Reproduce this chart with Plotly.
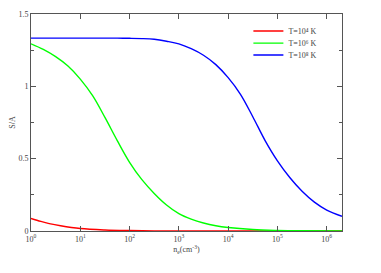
import plotly.graph_objects as go

# log10 density values and S/A readings
red_logn = [0.0, 0.2, 0.37, 0.6, 1.0, 1.5, 2.0, 2.5, 3.0, 4.0, 5.0, 6.33]
red_val = [0.087, 0.066, 0.051, 0.036, 0.017, 0.007, 0.003, 0.0012, 0.0005, 0.0001, 0.0, 0.0]

green_logn = [0.0, 0.25, 0.5, 0.75, 1.0, 1.25, 1.5, 1.75, 2.0, 2.25, 2.5, 2.75, 3.0, 3.25,
              3.5, 3.75, 4.0, 4.5, 5.0, 5.5, 6.33]
green_val = [1.294, 1.255, 1.205, 1.14, 1.05, 0.935, 0.785, 0.625, 0.475, 0.355, 0.26, 0.18,
             0.12, 0.082, 0.055, 0.036, 0.024, 0.01, 0.004, 0.0015, 0.0003]

blue_logn = [0.0, 0.5, 1.0, 1.5, 1.75, 2.0, 2.25, 2.5, 2.75, 3.0, 3.25, 3.5, 3.75, 4.0, 4.25,
             4.5, 4.75, 5.0, 5.25, 5.5, 5.75, 6.0, 6.31]
blue_val = [1.333, 1.333, 1.333, 1.333, 1.333, 1.332, 1.33, 1.325, 1.312, 1.294, 1.26, 1.215,
            1.15, 1.06, 0.945, 0.79, 0.625, 0.485, 0.37, 0.275, 0.20, 0.145, 0.102]

series_names = ["T=10⁴ K", "T=10⁶ K", "T=10⁸ K"]
series_colors = ["#ff0000", "#00ff00", "#0000ff"]
legend_ids = ["legend", "legend2", "legend3"]

x_tick_exps = [0, 1, 2, 3, 4, 5, 6]
y_tick_vals = [0, 0.5, 1, 1.5]
y_tick_text = ["0", "0.5", "1", "1.5"]

font_family = "Liberation Serif"
axis_col = "#555555"
text_col = "#444444"

fig = go.Figure()
for lx, ly, name, col, lg in zip([red_logn, green_logn, blue_logn],
                                 [red_val, green_val, blue_val],
                                 series_names, series_colors, legend_ids):
    fig.add_trace(go.Scatter(x=[10 ** v for v in lx], y=ly, mode="lines", name=name,
                             legend=lg,
                             line=dict(color=col, width=1.4, shape="spline")))

legend_common = dict(x=0.699, xanchor="left", yanchor="middle",
                     bgcolor="rgba(0,0,0,0)", font=dict(size=8, color=text_col))
fig.update_layout(
    width=373, height=265,
    margin=dict(l=23, r=39, t=6, b=42),
    paper_bgcolor="white", plot_bgcolor="white",
    font=dict(family=font_family, size=8, color=text_col),
    showlegend=True,
    legend=dict(y=0.922, **legend_common),
    legend2=dict(y=0.866, **legend_common),
    legend3=dict(y=0.811, **legend_common),
)
fig.update_xaxes(
    type="log", range=[0, 6.31], automargin=False,
    tickvals=[10 ** e for e in x_tick_exps],
    ticktext=["10<sup>%d</sup>" % e for e in x_tick_exps],
    ticks="inside", ticklen=5, tickcolor=axis_col, tickwidth=1,
    showline=True, linecolor=axis_col, linewidth=1, mirror="ticks",
    showgrid=False, zeroline=False,
    tickfont=dict(size=8, color=text_col),
    title=dict(text="n<sub>e</sub>(cm<sup>-3</sup>)", font=dict(size=8, color=text_col), standoff=2),
)
fig.update_yaxes(
    range=[0, 1.5], automargin=False,
    tickvals=y_tick_vals, ticktext=y_tick_text,
    ticks="inside", ticklen=5, tickcolor=axis_col, tickwidth=1,
    minor=dict(dtick=0.25, tick0=0, ticks="inside", ticklen=3, tickcolor=axis_col),
    showline=True, linecolor=axis_col, linewidth=1, mirror="ticks",
    showgrid=False, zeroline=False,
    tickfont=dict(size=8, color=text_col),
    title=dict(text="S/A", font=dict(size=8, color=text_col), standoff=3),
)

fig.write_html("out.html")
